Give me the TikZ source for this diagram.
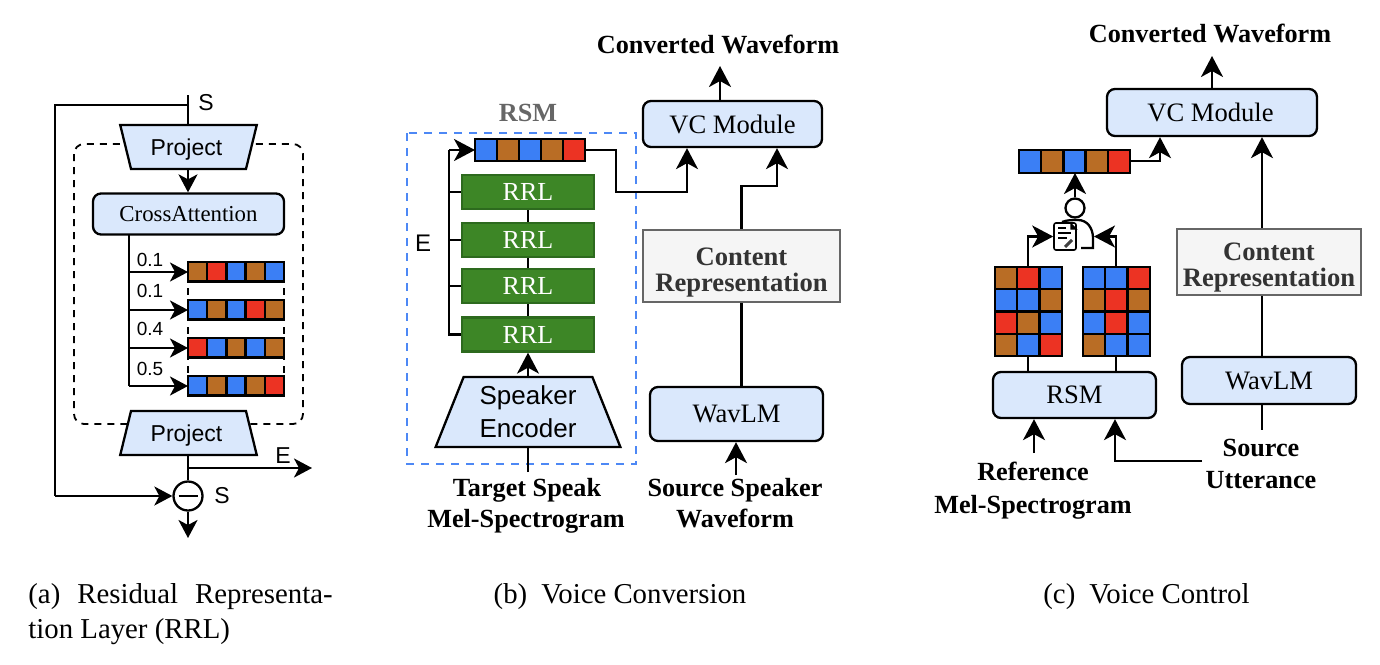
\documentclass[tikz,border=0pt]{standalone}
\usepackage{fontspec}
\setmainfont{Liberation Serif}
\setsansfont{Liberation Sans}
\usetikzlibrary{arrows.meta,shapes.geometric,calc}
\definecolor{cblue}{HTML}{3B7FF5}
\definecolor{cbrown}{HTML}{B96D25}
\definecolor{cred}{HTML}{EC3323}
\definecolor{boxfill}{HTML}{DAE8FC}
\definecolor{rrlfill}{HTML}{3D8626}
\definecolor{rrlline}{HTML}{2D6A1E}
\definecolor{rsmdash}{HTML}{4D88F5}
\tikzset{
  ln/.style={line width=1.15pt,draw=black},
  arrA/.style={ln,-{Stealth[length=9pt,width=9.5pt,inset=2.5pt]}},
  arrB/.style={ln,-{Stealth[length=10.5pt,width=11pt,inset=3pt]}},
  rbox/.style={draw=black,line width=1.15pt,fill=boxfill,rounded corners=4pt,inner sep=0pt,align=center},
  trap/.style={trapezium,trapezium stretches=true,draw=black,line width=1.15pt,fill=boxfill,inner sep=0pt,align=center},
  rrl/.style={draw=rrlline,line width=1.15pt,fill=rrlfill,text=white,inner sep=0pt,minimum width=66pt,minimum height=17pt,font=\fontsize{13}{13}\selectfont},
  content/.style={draw=black!60,line width=1.3pt,fill=black!4,inner sep=0pt,align=center,text=black!80,font=\fontsize{13.3}{13}\selectfont\bfseries},
  blabel/.style={inner sep=0pt,text height=9pt,text depth=0pt,font=\fontsize{13.1}{13}\selectfont\bfseries},
  arial/.style={inner sep=0pt,font=\sffamily\fontsize{#1}{#1}\selectfont},
  times/.style={font=\fontsize{#1}{#1}\selectfont},
  caption/.style={inner sep=0pt,text height=9.5pt,text depth=0pt,font=\fontsize{14.4}{14.4}\selectfont},
}
% name, left x, top y, cell w, cell h, colour list (one row)
\newcommand{\cellbar}[6]{%
  \foreach \cc [count=\ii from 0] in {#6}{%
    \draw[line width=1.15pt,fill=\cc] ({#2+\ii*#4},#3) rectangle ({#2+(\ii+1)*#4},{#3+#5});
  }%
  \coordinate (#1) at (#2,#3);
}
\begin{document}
\begin{tikzpicture}[x=0.5pt,y=-0.5pt]
\useasboundingbox (0,0) rectangle (1380,664);

%% ---------- panel (a)
\draw[line width=0.9pt,dashed,dash pattern=on 3.5pt off 3pt,rounded corners=5pt] (74,144) rectangle (303,424);
\node[trap,shape border rotate=180,trapezium left angle=66.6,trapezium right angle=66.6,minimum width=68.5pt,minimum height=22pt,arial=11.5,text height=8.2pt,text depth=0pt] (projT) at (188.5,147) {Project\hspace{2pt}};
\node[trap,trapezium left angle=66.6,trapezium right angle=66.6,minimum width=68.5pt,minimum height=22pt,arial=11.5,text height=8.2pt,text depth=0pt] (projB) at (188.5,433) {Project\hspace{2pt}};
\node[rbox,minimum width=95.5pt,minimum height=20.5pt,times=11.4] (cross) at (188.5,214) {CrossAttention};
\coordinate (sTop) at (188,95);
\coordinate (sLeftA) at (55,105);
\coordinate (sLeftB) at (55,496);
\draw[ln] (sTop) -- (projT.north -| sTop);
\draw[ln] (sTop |- sLeftA) -- (sLeftA) -- (sLeftB);
\node[circle,draw=black,line width=1.15pt,minimum size=14.5pt,inner sep=0pt] (minus) at (188,496) {};
\draw[line width=1.15pt] ($(minus.center)+(-9.5,0)$) -- ($(minus.center)+(9.5,0)$);
\draw[arrA] (sLeftB) -- (minus.west);
\draw[arrA] (projT.south -| sTop) -- (cross.north -| sTop);
\draw[ln] (projB.south -| sTop) -- (minus.north);
\coordinate (eEnd) at (312,468);
\draw[arrA] (sTop |- eEnd) -- (eEnd);
\coordinate (downEnd) at (188,538);
\draw[arrA] (minus.south) -- (downEnd);
\node[arial=11.5] (lblS1) at (206,103) {S};
\node[arial=11.5] (lblE1) at (283,456) {E};
\node[arial=11.5] (lblS2) at (222,496) {S};

\draw[line width=0.9pt,dashed,dash pattern=on 3.5pt off 3pt] (188,262) -- (188,396) (284,262) -- (284,396);
\cellbar{barA}{188}{262}{19.2}{19.4}{cbrown,cred,cblue,cbrown,cblue}
\cellbar{barB}{188}{300}{19.2}{19.4}{cblue,cbrown,cblue,cred,cbrown}
\cellbar{barC}{188}{338}{19.2}{19.4}{cred,cblue,cbrown,cblue,cbrown}
\cellbar{barD}{188}{376}{19.2}{19.4}{cblue,cbrown,cblue,cbrown,cred}
\coordinate (trunkTop) at (129,234);
\coordinate (trunkBot) at (129,386);
\draw[ln] (trunkTop) -- (trunkBot);
\draw[arrA] (129,272) -- ($(barA)+(0,10)$);
\draw[arrA] (129,310) -- ($(barB)+(0,10)$);
\draw[arrA] (129,348) -- ($(barC)+(0,10)$);
\draw[arrA] (trunkBot) -- ($(barD)+(0,10)$);
\node[arial=9.5] (w1) at (150,260) {0.1};
\node[arial=9.5] (w2) at (150,291) {0.1};
\node[arial=9.5] (w3) at (150,329) {0.4};
\node[arial=9.5] (w4) at (150,369) {0.5};

%% ---------- panel (b)
\node[blabel] (convB) at (718,44) {Converted Waveform};
\node[rbox,minimum width=89.5pt,minimum height=23pt,times=13.3] (vcB) at (732.5,124) {VC Module};
\coordinate (vcBout) at (720,66);
\draw[arrB] (vcB.north -| vcBout) -- (vcBout);
\node[blabel,text=black!60] (rsmLbl) at (528,112) {RSM};
\draw[draw=rsmdash,line width=1.2pt,dashed,dash pattern=on 4pt off 3.5pt] (407,133) rectangle (636,464);
\node[rrl] (r1) at (528,192) {RRL};
\node[rrl] (r2) at (528,240) {RRL};
\node[rrl] (r3) at (528,286) {RRL};
\node[rrl] (r4) at (528,334.5) {RRL};
\draw[ln] (r1) -- (r2);
\draw[ln] (r2) -- (r3);
\draw[ln] (r3) -- (r4);
\cellbar{barE}{475}{139}{22}{22}{cblue,cbrown,cblue,cbrown,cred}
\coordinate (barEw) at (475,150);
\coordinate (barEe) at (585,150);
\coordinate (trunkB) at (449,150);
\draw[ln] (trunkB) -- (trunkB |- r4.west) -- (r4.west);
\draw[ln] (trunkB |- r1.west) -- (r1.west);
\draw[ln] (trunkB |- r2.west) -- (r2.west);
\draw[ln] (trunkB |- r3.west) -- (r3.west);
\draw[arrB] (trunkB) -- (barEw);
\node[trap,trapezium left angle=68,trapezium right angle=68,minimum width=93pt,minimum height=35pt,arial=13] (spk) at (528,412) {Speaker\\[3.5pt]Encoder};
\draw[arrB] (spk.north -| r4) -- (r4.south);
\coordinate (tgtTop) at (528,472);
\draw[ln] (tgtTop) -- (spk.south -| tgtTop);
\node[blabel] (tgt1) at (527,487) {Target Speak};
\node[blabel] (tgt2) at (526,518) {Mel-Spectrogram};
\node[blabel] (src1) at (735,487) {Source Speaker};
\node[blabel] (src2) at (735,518) {Waveform};
\node[rbox,minimum width=86.5pt,minimum height=27pt,times=13.3] (wavB) at (736.5,414) {WavLM};
\coordinate (srcUp) at (736,475);
\draw[arrB] (srcUp) -- (wavB.south -| srcUp);
\node[content,minimum width=98.5pt,minimum height=36pt,text height=25pt,text depth=0pt] (contB) at (741.5,266) {Content\\Representation};
\draw[ln] (wavB.north -| contB) -- (contB.south);
\coordinate (kb2) at (777,186);
\draw[arrB] (contB.north) -- (contB.north |- kb2) -- (kb2) -- (kb2 |- vcB.south);
\coordinate (ka1) at (616,192);
\coordinate (ka2) at (687,192);
\draw[arrB] (barEe) -| (ka1) -- (ka2) -- (ka2 |- vcB.south);
\node[arial=12] (lblE2) at (423,243) {E};

%% ---------- panel (c)
\node[blabel] (convC) at (1210,33) {Converted Waveform};
\node[rbox,minimum width=105pt,minimum height=23.5pt,times=13.3] (vcC) at (1212,112.5) {VC Module\hspace{1.5pt}};
\coordinate (vcCout) at (1212,56);
\draw[arrB] (vcC.north -| vcCout) -- (vcCout);
\cellbar{barF}{1019}{150}{22.2}{23}{cblue,cbrown,cblue,cbrown,cred}
\coordinate (barFs) at (1075,173);
\coordinate (barFe) at (1130,161);
\coordinate (kc1) at (1160,161);
\draw[arrB] (barFe) -- (kc1) -- (kc1 |- vcC.south);
% person + document
\node[circle,draw=black,line width=1.15pt,minimum size=9.5pt,inner sep=0pt] (head) at (1075,208) {};
\draw[arrB] (head.north) -- (barFs);
\draw[line width=1.15pt] (1062,222) .. controls (1067,220) and (1072,220) .. (1078,220) .. controls (1087,220) and (1093,228) .. (1093,238) -- (1093,248) -- (1081,248);
\node[draw=black,line width=0.8pt,fill=white,rounded corners=1pt,minimum width=11pt,minimum height=13.5pt,inner sep=0pt] (doc) at (1065,236.5) {};
\draw[line width=0.7pt,fill=black] (1071,224) -- (1076,229) -- (1071,229) -- cycle;
\draw[line width=0.7pt] (1058,228) -- (1066,228) (1058,233) -- (1071,233) (1058,238) -- (1067,238);
\draw[line width=1.5pt,black!75] (1065,247) -- (1072,240);
% matrices
\cellbar{mL1}{995}{267}{22.3}{22.3}{cbrown,cred,cblue}
\cellbar{mL2}{995}{289.3}{22.3}{22.3}{cblue,cblue,cbrown}
\cellbar{mL3}{995}{311.6}{22.3}{22.3}{cred,cbrown,cblue}
\cellbar{mL4}{995}{333.9}{22.3}{22.3}{cbrown,cblue,cred}
\cellbar{mR1}{1083}{267}{22.3}{22.3}{cblue,cblue,cred}
\cellbar{mR2}{1083}{289.3}{22.3}{22.3}{cbrown,cred,cbrown}
\cellbar{mR3}{1083}{311.6}{22.3}{22.3}{cblue,cred,cblue}
\cellbar{mR4}{1083}{333.9}{22.3}{22.3}{cbrown,cblue,cblue}
\node[rbox,minimum width=81.5pt,minimum height=23pt,times=13.3] (rsmC) at (1074.5,395) {RSM};
\coordinate (mlTop) at (1028,267);
\coordinate (mrTop) at (1116,267);
\coordinate (mlBot) at (1028,356);
\coordinate (mrBot) at (1116,356);
\coordinate (bodyR) at (1094,236.5);
\draw[ln] (mlBot) -- (rsmC.north -| mlBot);
\draw[ln] (mrBot) -- (rsmC.north -| mrBot);
\draw[arrB] (mlTop) |- (doc.west);
\draw[arrB] (mrTop) |- (bodyR);
\coordinate (refUp) at (1034,453);
\draw[arrB] (refUp) -- (rsmC.south -| refUp);
\coordinate (utt) at (1202,461);
\coordinate (uttK) at (1115,461);
\draw[arrB] (utt) -- (uttK) -- (uttK |- rsmC.south);
\node[blabel] (ref1) at (1033,471) {Reference};
\node[blabel] (ref2) at (1033,504) {Mel-Spectrogram};
\node[blabel] (sc1) at (1261,447) {Source};
\node[blabel] (sc2) at (1261,479) {Utterance};
\node[rbox,minimum width=87pt,minimum height=23.5pt,times=13.3] (wavC) at (1269,380.5) {WavLM};
\coordinate (wavCb) at (1262,430);
\draw[ln] (wavC.south -| wavCb) -- (wavCb);
\node[content,minimum width=92pt,minimum height=33pt,text height=24pt,text depth=0pt] (contC) at (1269,262) {Content\\Representation};
\draw[ln] (wavC.north -| wavCb) -- (contC.south -| wavCb);
\draw[arrB] (contC.north -| wavCb) -- (vcC.south -| wavCb);

%% ---------- captions
\node[caption,anchor=west] (capA1) at (28,594) {(a)\hspace{8.5pt}Residual\hspace{8.5pt}Representa-};
\node[caption,anchor=west] (capA2) at (28,629) {tion Layer (RRL)};
\node[caption] (capB) at (620,594) {(b)\hspace{7pt}Voice Conversion};
\node[caption] (capC) at (1146.5,594) {(c)\hspace{7pt}Voice Control};
\end{tikzpicture}
\end{document}
